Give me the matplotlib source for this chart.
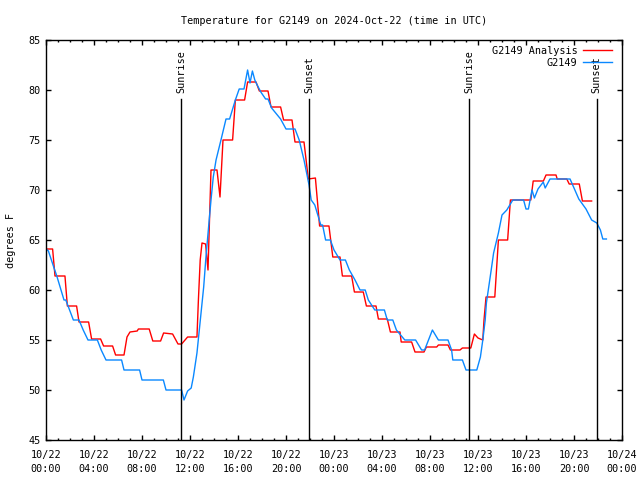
import datetime as dt
import matplotlib
matplotlib.use("Agg")
import matplotlib.pyplot as plt
import matplotlib.dates as mdates

plt.rcParams['font.family'] = ['DejaVu Sans Mono']
plt.rcParams['font.size'] = 7.3

START = dt.datetime(2024, 10, 22, 0, 0)

# analysis series: hours since start, degrees F
ana_hours = [0.0, 0.55, 0.75, 1.58, 1.78, 2.55, 2.75, 3.55, 3.8, 4.55, 4.8, 5.55, 5.8, 6.5,
             6.75, 7.0, 7.6, 7.7, 8.6, 8.9, 9.55, 9.8, 10.55, 11.0, 11.3, 11.8, 12.58, 12.7,
             12.85, 13.0, 13.3, 13.5, 13.6, 13.75, 14.25, 14.5, 14.75, 15.55, 15.78, 16.55,
             16.8, 17.5, 17.78, 18.5, 18.75, 19.55, 19.8, 20.5, 20.75, 21.5, 21.86, 22.45,
             22.8, 23.58, 23.9, 24.5, 24.7, 25.47, 25.7, 26.44, 26.7, 27.5, 27.7, 28.44,
             28.7, 29.5, 29.6, 30.47, 30.75, 31.5, 31.7, 32.56, 32.7, 33.5, 33.7, 34.5,
             34.7, 35.4, 35.7, 36.0, 36.4, 36.5, 36.67, 37.4, 37.7, 38.47, 38.7, 40.4,
             40.6, 41.45, 41.67, 42.5, 42.6, 43.4, 43.6, 44.44, 44.7, 45.47]
ana_temps = [64.1, 64.1, 61.4, 61.4, 58.4, 58.4, 56.8, 56.8, 55.1, 55.1, 54.4, 54.4, 53.5, 53.5,
             55.3, 55.8, 55.9, 56.1, 56.1, 54.9, 54.9, 55.7, 55.6, 54.6, 54.6, 55.3, 55.3, 59.0,
             63.0, 64.7, 64.6, 62.0, 66.0, 72.0, 72.0, 69.3, 75.0, 75.0, 79.0, 79.0,
             80.8, 80.8, 79.9, 79.9, 78.3, 78.3, 77.0, 77.0, 74.8, 74.8, 71.1, 71.2,
             66.4, 66.4, 63.3, 63.3, 61.4, 61.4, 59.8, 59.8, 58.4, 58.4, 57.1, 57.1,
             55.8, 55.8, 54.8, 54.8, 53.8, 53.8, 54.3, 54.3, 54.5, 54.5, 54.0, 54.0,
             54.2, 54.2, 55.6, 55.2, 55.0, 57.0, 59.3, 59.3, 65.0, 65.0, 69.0, 69.0,
             70.9, 70.9, 71.5, 71.5, 71.1, 71.1, 70.6, 70.6, 68.9, 68.9]

# observed series
obs_hours = [0.0, 0.2, 0.67, 0.9, 1.5, 1.65, 2.28, 2.75, 3.1, 3.5, 4.28, 4.6, 5.0, 6.3, 6.5,
             7.8, 8.0, 9.78, 10.0, 11.3, 11.5, 11.8, 12.1, 12.28, 12.58, 12.86, 13.14, 13.33,
             13.6, 13.75, 13.94, 14.17, 14.58, 15.0, 15.3, 15.78, 16.1, 16.5, 16.8, 17.0,
             17.2, 17.4, 17.6, 17.9, 18.3, 18.5, 18.8, 19.55, 20.0, 20.75, 21.1, 21.5,
             21.92, 22.1, 22.4, 22.9, 23.05, 23.3, 23.7, 24.0, 24.5, 24.95, 25.28, 25.75,
             26.17, 26.6, 26.86, 27.4, 28.2, 28.44, 28.9, 29.2, 29.9, 30.8, 31.3, 31.55,
             32.2, 32.7, 33.5, 33.8, 33.9, 34.7, 35.0, 35.9, 36.2, 36.4, 36.6, 36.7, 37.1,
             37.3, 37.7, 38.0, 38.4, 38.9, 39.8, 40.0, 40.2, 40.5, 40.7, 41.0, 41.44, 41.6,
             42.0, 43.67, 44.0, 44.4, 45.0, 45.47, 45.9, 46.2, 46.4, 46.7]
obs_temps = [64.1, 63.9, 62.2, 61.4, 59.0, 59.0, 57.0, 57.0, 56.0, 55.0, 55.0, 54.0, 53.0, 53.0, 52.0,
             52.0, 51.0, 51.0, 50.0, 50.0, 49.0, 49.9, 50.2, 51.3, 53.7, 57.0, 60.3, 63.3,
             67.0, 69.0, 71.3, 73.0, 75.0, 77.1, 77.1, 79.0, 80.1, 80.1, 82.0, 80.7,
             81.9, 81.0, 80.5, 79.8, 79.1, 79.1, 78.2, 77.1, 76.1, 76.1, 75.0, 73.0,
             70.5, 69.0, 68.5, 66.5, 66.5, 65.0, 65.0, 64.0, 63.0, 63.0, 62.0, 61.0,
             60.0, 60.0, 59.0, 58.0, 58.0, 57.0, 57.0, 56.0, 55.0, 55.0, 54.0, 54.0,
             56.0, 55.0, 55.0, 54.0, 53.0, 53.0, 52.0, 52.0, 53.3, 55.0, 57.0, 58.7, 62.0,
             63.7, 65.7, 67.5, 68.0, 69.0, 69.0, 68.1, 68.1, 70.0, 69.2, 70.1, 70.8, 70.2,
             71.1, 71.1, 70.2, 69.1, 68.1, 67.0, 66.7, 66.0, 65.1, 65.1]

sun_hours = [11.25, 21.92, 35.25, 45.9]
sun_labels = ["Sunrise", "Sunset", "Sunrise", "Sunset"]


def to_times(hours):
    return [START + dt.timedelta(hours=h) for h in hours]


fig = plt.figure(figsize=(6.4, 4.8), dpi=100)
ax = fig.add_axes([46 / 640, 40 / 480, 576 / 640, 400 / 480])

ax.plot(to_times(ana_hours), ana_temps, color='#ff0000', lw=1.0, label='G2149 Analysis')
ax.plot(to_times(obs_hours), obs_temps, color='#0a88ff', lw=1.0, label='G2149')

for h, name in zip(sun_hours, sun_labels):
    t = START + dt.timedelta(hours=h)
    ax.axvline(t, ymin=0, ymax=0.852, color='black', lw=1.0)
    ax.text(t, 0.868, name, rotation=90, ha='center', va='bottom',
            transform=ax.get_xaxis_transform())

ax.set_xlim(START, START + dt.timedelta(hours=48))
ax.set_ylim(45, 85)
ax.set_yticks(range(45, 86, 5))
ax.xaxis.set_major_locator(mdates.HourLocator(byhour=[0, 4, 8, 12, 16, 20]))
ax.xaxis.set_minor_locator(mdates.HourLocator())
ax.xaxis.set_major_formatter(mdates.DateFormatter('%m/%d\n%H:%M'))

ax.tick_params(which='both', direction='in', top=True, right=True, width=1.0)
ax.tick_params(which='major', length=3.3)
ax.tick_params(which='minor', length=1.6)
ax.tick_params(axis='x', pad=7)
ax.tick_params(axis='y', pad=4)
for lbl in ax.get_xticklabels():
    lbl.set_linespacing(1.55)
for s in ax.spines.values():
    s.set_linewidth(1.0)

ax.legend(loc='upper right', bbox_to_anchor=(612 / 640, 1 - 46 / 480),
          bbox_transform=fig.transFigure, frameon=False, markerfirst=False,
          handlelength=2.9, handletextpad=0.5, labelspacing=0.15, borderpad=0,
          borderaxespad=0)

fig.text(334 / 640, 1 - 20.5 / 480, 'Temperature for G2149 on 2024-Oct-22 (time in UTC)',
         ha='center', va='center')
fig.text(11 / 640, 0.5, 'degrees F', rotation=90, ha='center', va='center')

fig.savefig('out.png', dpi=100)
